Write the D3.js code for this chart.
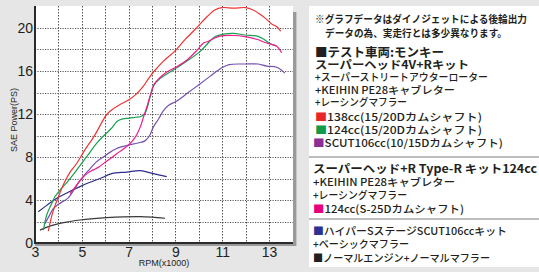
<!DOCTYPE html>
<html><head><meta charset="utf-8">
<script src="https://cdn.jsdelivr.net/npm/d3@7"></script>
<style>
html,body{margin:0;padding:0;background:#e6e6e7;}
svg{display:block;}
</style></head>
<body>
<svg id="c" width="539" height="272"></svg>
<script>
// ---- data ----
const xTicks = [3,5,7,9,11,13];
const yTicks = [0,4,8,12,16,20];
const xLabel = "RPM(x1000)";
const yLabel = "SAE Power(PS)";

const s138 = [[3.57,1.1],[3.75,2.8],[4.0,4.3],[4.25,5.6],[4.5,6.6],[4.75,7.3],[4.95,8.0],[5.2,8.9],[5.4,9.5],[5.6,10.2],[5.85,11.2],[6.08,12.0],[6.35,12.5],[6.65,12.9],[7.0,13.3],[7.3,13.8],[7.6,14.5],[7.85,15.3],[8.1,16.0],[8.48,16.9],[9.0,17.9],[9.4,18.9],[9.9,20.0],[10.35,21.05],[10.7,21.7],[11.0,21.9],[11.5,21.85],[12.0,21.9],[12.3,21.7],[12.6,21.3],[12.9,20.8],[13.1,20.4],[13.35,20.1],[13.5,19.7]];
const s124 = [[3.36,1.2],[3.5,2.6],[3.7,3.6],[3.85,4.3],[4.1,5.0],[4.35,5.6],[4.65,6.4],[4.92,7.2],[5.3,8.3],[5.64,9.3],[5.95,10.0],[6.28,10.7],[6.5,11.3],[6.75,11.55],[7.0,11.6],[7.3,11.7],[7.5,11.75],[7.7,12.06],[7.91,13.5],[8.06,14.6],[8.34,15.3],[8.77,15.9],[9.06,16.3],[9.48,16.9],[10.05,17.8],[10.4,18.6],[10.7,19.2],[11.0,19.4],[11.47,19.5],[11.97,19.35],[12.5,19.25],[12.75,19.0],[13.0,18.6],[13.33,18.3]];
const sScut = [[3.43,1.8],[3.6,2.5],[3.78,3.2],[4.0,3.6],[4.42,4.2],[4.65,4.9],[4.85,5.6],[5.1,6.3],[5.35,6.9],[5.6,7.5],[5.92,8.0],[6.25,8.5],[6.55,8.85],[6.99,9.1],[7.4,9.3],[7.7,9.5],[7.9,10.0],[8.06,10.8],[8.3,11.6],[8.48,12.3],[8.7,12.8],[9.06,13.2],[9.55,14.0],[10.05,14.8],[10.48,15.5],[10.98,16.3],[11.3,16.6],[11.97,16.65],[12.54,16.65],[12.9,16.45],[13.33,16.35],[13.68,15.8]];
const sTypeR = [[4.5,4.6],[4.75,5.3],[5.0,6.0],[5.25,6.5],[5.49,6.8],[5.75,7.1],[5.99,7.5],[6.25,7.9],[6.49,8.3],[6.75,8.7],[6.99,9.1],[7.2,9.6],[7.35,10.1],[7.5,10.8],[7.65,11.8],[7.8,12.8],[7.95,13.9],[8.1,14.8],[8.3,15.3],[8.63,15.9],[9.06,16.4],[9.48,17.0],[9.91,17.9],[10.2,18.6],[10.4,18.75],[10.62,19.0],[10.9,19.25],[11.47,19.3],[11.97,19.2],[12.47,18.95],[12.9,18.6],[13.33,18.3],[13.54,17.7]];
const sHyper = [[3.14,2.9],[3.5,3.5],[3.93,4.16],[4.4,4.7],[4.92,5.24],[5.35,5.65],[5.78,6.0],[6.28,6.45],[6.92,6.6],[7.49,6.73],[7.8,6.6],[8.06,6.45],[8.63,6.17]];
const sNormal = [[3.21,1.2],[3.6,1.55],[4.07,1.83],[4.5,2.0],[4.92,2.14],[5.5,2.27],[6.06,2.36],[6.8,2.43],[7.49,2.45],[8.0,2.4],[8.56,2.3]];

const seriesData = [sNormal, sHyper, sScut, s124, sTypeR, s138];
const seriesColors = ["#3a3a3a","#2e2e8e","#7651b0","#1aa050","#ec1a8c","#ee3333"];

const legendLines = [
  "※グラフデータはダイノジェットによる後輪出力",
  "データの為、実走行とは多少異なります。",
  "■テスト車両:モンキー",
  "スーパーヘッド4V+Rキット",
  "+スーパーストリートアウターローター",
  "+KEIHIN PE28キャブレター",
  "+レーシングマフラー",
  "■138cc(15/20Dカムシャフト)",
  "■124cc(15/20Dカムシャフト)",
  "■SCUT106cc(10/15Dカムシャフト)",
  "スーパーヘッド+R Type-R キット124cc",
  "+KEIHIN PE28キャブレター",
  "+レーシングマフラー",
  "■124cc(S-25Dカムシャフト)",
  "■ハイパーSステージSCUT106ccキット",
  "+ベーシックマフラー",
  "■ノーマルエンジン+ノーマルマフラー"
];
const legendSquareColors = [null,null,"#231f20",null,null,null,null,"#e8262a","#0f9b4a","#8b2f96",null,null,null,"#e6007e","#2e3192",null,"#231f20"];

// ---- layout ----
const lay = {
  ys:[18,32.5,51,64,76.5,89,101.5,115.5,128.5,142,168,181.5,194.5,207.5,230,243.5,257],
  xs:[315,325,315,315,315,315,315,315,315,313,313,313,313,313,313,313,313],
  w:[212,182,129,154,173,140,92,167,167,190,224,142,94,151,194,96,177],
  fs:[10,10,12.5,11,10.5,10.5,10.5,10.5,10.5,10.5,11.5,10.5,10.5,10.5,10.5,10.5,10.5],
  fw:[700,700,700,700,500,500,500,500,500,500,700,500,500,500,500,500,500]
};

const svg = d3.select("#c");
const PL=35, PR=292.4, PT=6.5, PB=243;
const x = d3.scaleLinear().domain([3,14]).range([PL,PR]);
const y = d3.scaleLinear().domain([0,22]).range([PB,PT]);

// shadow
svg.append("rect").attr("x",PL).attr("y",12).attr("width",PR-PL+4).attr("height",PB-12+3).attr("fill","#9a9a9a");
// plot white
svg.append("rect").attr("x",PL).attr("y",6).attr("width",PR-PL+0.6).attr("height",PB-6).attr("fill","#fff");

// grid
const g = svg.append("g");
g.selectAll("line.h").data(d3.range(2,22,2)).join("line")
  .attr("x1",PL).attr("x2",PR+0.6).attr("y1",d=>Math.round(y(d))+0.5).attr("y2",d=>Math.round(y(d))+0.5)
  .attr("stroke","#555").attr("stroke-width",1).attr("stroke-dasharray","1.2,1.3");
g.selectAll("line.v").data(d3.range(4,14,1)).join("line")
  .attr("y1",6).attr("y2",PB).attr("x1",d=>Math.round(x(d))+0.5).attr("x2",d=>Math.round(x(d))+0.5)
  .attr("stroke","#555").attr("stroke-width",1).attr("stroke-dasharray","1.5,1.5");

// axes
const ax = d3.axisBottom(x).tickValues(xTicks).tickSize(0).tickPadding(4);
const xa = svg.append("g").attr("transform",`translate(0,${PB})`).call(ax);
xa.select(".domain").remove();
xa.selectAll("text").attr("font-family","Liberation Sans, Arial, sans-serif").attr("font-size",14).attr("fill","#231f20").attr("dy","0.7em");
const ay = d3.axisLeft(y).tickValues(yTicks).tickSize(0).tickPadding(2);
const ya = svg.append("g").attr("transform",`translate(${PL},0)`).call(ay);
ya.select(".domain").remove();
ya.selectAll("text").attr("font-family","Liberation Sans, Arial, sans-serif").attr("font-size",14).attr("fill","#231f20");

svg.append("line").attr("x1",PL).attr("x2",PL).attr("y1",6).attr("y2",PB+1).attr("stroke","#2a2a2a").attr("stroke-width",2);
svg.append("line").attr("x1",PL).attr("x2",PR+0.6).attr("y1",PB).attr("y2",PB).attr("stroke","#2a2a2a").attr("stroke-width",2);

svg.append("text").attr("x",164).attr("y",266).attr("text-anchor","middle")
  .attr("font-family","Liberation Sans, Arial, sans-serif").attr("font-size",9).attr("fill","#231f20").text(xLabel);
svg.append("text").attr("transform","translate(17,120) rotate(-90)").attr("text-anchor","middle")
  .attr("font-family","Liberation Sans, Arial, sans-serif").attr("font-size",9).attr("fill","#231f20").text(yLabel);

// lines
const line = d3.line().x(d=>x(d[0])).y(d=>y(d[1])).curve(d3.curveCatmullRom.alpha(0.5));
svg.append("g").selectAll("path").data(seriesData).join("path")
  .attr("d",line).attr("fill","none").attr("stroke",(d,i)=>seriesColors[i]).attr("stroke-width",1.2);

// legend panel
svg.append("rect").attr("x",309).attr("y",6).attr("width",230).attr("height",261).attr("fill","#fff");
[157,219].forEach(v=>svg.append("rect").attr("x",309).attr("y",v-1).attr("width",230).attr("height",2).attr("fill","#bdbdbd"));

const lg = svg.append("g").attr("font-family","'Noto Sans CJK JP', sans-serif").attr("fill","#231f20");
legendLines.forEach((t,i)=>{
  const te = lg.append("text").attr("x",lay.xs[i]).attr("y",lay.ys[i]).attr("dominant-baseline","central")
    .attr("font-size",lay.fs[i]).attr("font-weight",lay.fw[i])
    .attr("textLength",lay.w[i]).attr("lengthAdjust","spacingAndGlyphs");
  if (t[0]==="■" && legendSquareColors[i]) {
    te.append("tspan").attr("fill",legendSquareColors[i]).text("■");
    te.append("tspan").text(t.slice(1));
  } else te.text(t);
});
</script>
</body></html>
